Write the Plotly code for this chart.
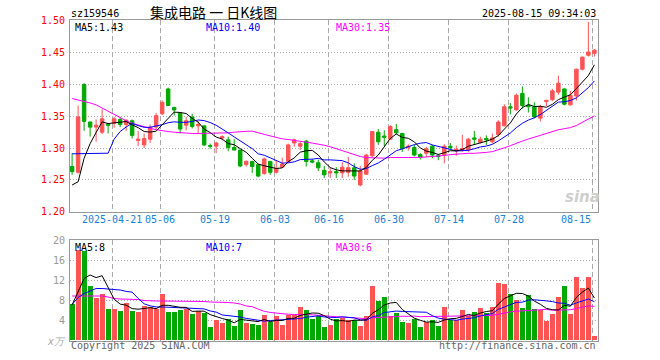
import plotly.graph_objects as go

# ---------------- data ----------------
tick_idx = [7, 15, 24, 34, 43, 53, 63, 73, 87]
tick_labels = ["2025-04-21", "05-06", "05-19", "06-03", "06-16", "06-30", "07-14", "07-28", "08-15"]

opens = [1.271, 1.262, 1.400, 1.341, 1.333, 1.325, 1.338, 1.339, 1.345, 1.337,
         1.343, 1.312, 1.305, 1.314, 1.333, 1.354, 1.393, 1.364, 1.355, 1.336,
         1.349, 1.335, 1.335, 1.304, 1.303, 1.316, 1.313, 1.301, 1.297, 1.274,
         1.279, 1.274, 1.260, 1.279, 1.262, 1.270, 1.279, 1.308, 1.303, 1.311,
         1.280, 1.277, 1.265, 1.261, 1.263, 1.261, 1.262, 1.269, 1.242, 1.259,
         1.288, 1.325, 1.319, 1.314, 1.329, 1.323, 1.301, 1.301, 1.290, 1.292,
         1.303, 1.288, 1.290, 1.303, 1.296, 1.297, 1.297, 1.316, 1.309, 1.315,
         1.310, 1.321, 1.335, 1.365, 1.360, 1.386, 1.367, 1.365, 1.347, 1.373,
         1.376, 1.388, 1.393, 1.368, 1.382, 1.424, 1.446, 1.449]
highs = [1.292, 1.367, 1.402, 1.342, 1.345, 1.361, 1.339, 1.349, 1.349, 1.345,
         1.345, 1.327, 1.323, 1.337, 1.355, 1.375, 1.395, 1.365, 1.356, 1.349,
         1.354, 1.343, 1.335, 1.307, 1.310, 1.320, 1.318, 1.314, 1.297, 1.281,
         1.280, 1.275, 1.285, 1.280, 1.281, 1.285, 1.307, 1.315, 1.310, 1.313,
         1.283, 1.282, 1.272, 1.270, 1.270, 1.278, 1.286, 1.276, 1.272, 1.291,
         1.327, 1.330, 1.328, 1.336, 1.338, 1.324, 1.306, 1.305, 1.292, 1.302,
         1.305, 1.291, 1.306, 1.308, 1.304, 1.321, 1.316, 1.327, 1.318, 1.320,
         1.323, 1.344, 1.369, 1.371, 1.386, 1.397, 1.380, 1.372, 1.368, 1.376,
         1.393, 1.414, 1.394, 1.390, 1.425, 1.444, 1.498, 1.456]
lows = [1.258, 1.260, 1.327, 1.318, 1.310, 1.322, 1.323, 1.332, 1.333, 1.327,
        1.315, 1.303, 1.300, 1.308, 1.329, 1.352, 1.367, 1.351, 1.323, 1.328,
        1.331, 1.323, 1.303, 1.299, 1.292, 1.312, 1.295, 1.296, 1.270, 1.271,
        1.261, 1.254, 1.258, 1.258, 1.260, 1.269, 1.277, 1.302, 1.297, 1.271,
        1.276, 1.264, 1.253, 1.253, 1.253, 1.253, 1.255, 1.250, 1.240, 1.258,
        1.286, 1.305, 1.303, 1.313, 1.322, 1.294, 1.296, 1.287, 1.282, 1.286,
        1.284, 1.281, 1.276, 1.297, 1.288, 1.294, 1.294, 1.305, 1.307, 1.305,
        1.307, 1.318, 1.334, 1.353, 1.359, 1.362, 1.356, 1.347, 1.342, 1.366,
        1.374, 1.384, 1.367, 1.367, 1.375, 1.422, 1.444, 1.444]
closes = [1.263, 1.349, 1.342, 1.333, 1.336, 1.346, 1.336, 1.346, 1.337, 1.344,
          1.320, 1.314, 1.315, 1.333, 1.351, 1.372, 1.367, 1.360, 1.330, 1.343,
          1.334, 1.337, 1.305, 1.303, 1.308, 1.318, 1.301, 1.297, 1.272, 1.279,
          1.271, 1.256, 1.283, 1.262, 1.268, 1.275, 1.305, 1.313, 1.307, 1.279,
          1.278, 1.269, 1.258, 1.263, 1.261, 1.270, 1.269, 1.256, 1.264, 1.289,
          1.326, 1.310, 1.317, 1.334, 1.324, 1.299, 1.303, 1.289, 1.286, 1.299,
          1.289, 1.287, 1.303, 1.301, 1.298, 1.299, 1.314, 1.314, 1.314, 1.313,
          1.316, 1.341, 1.365, 1.363, 1.383, 1.367, 1.365, 1.349, 1.365, 1.375,
          1.390, 1.402, 1.369, 1.383, 1.424, 1.443, 1.451, 1.454]
volumes = [7.3, 18.0, 17.8, 10.8, 8.5, 9.2, 6.2, 6.2, 5.8, 7.4,
           5.8, 5.6, 6.9, 6.7, 6.3, 9.2, 5.6, 5.6, 6.0, 6.2,
           5.2, 5.9, 5.5, 2.6, 4.0, 3.5, 4.3, 2.8, 6.0, 3.4,
           3.2, 3.0, 5.0, 3.7, 4.8, 3.0, 5.1, 5.1, 6.6, 6.0,
           4.2, 4.9, 2.7, 3.0, 4.3, 4.5, 4.1, 4.0, 2.8, 4.9,
           10.8, 7.8, 8.7, 4.8, 5.5, 3.7, 3.5, 4.3, 2.7, 3.7,
           4.0, 2.9, 6.7, 4.0, 4.0, 6.0, 4.8, 5.7, 6.5, 5.5,
           6.7, 11.5, 11.3, 9.2, 8.0, 6.5, 9.0, 6.2, 6.0, 3.9,
           5.2, 8.7, 10.8, 5.2, 12.7, 10.5, 12.7, 0.9]

# moving-average values before enough days are visible
ma5_head = [1.242, 1.247, 1.284, 1.307]
ma10_head = [1.291, 1.291, 1.291, 1.291, 1.291, 1.291, 1.292, 1.314, 1.326]
ma30_head = [1.378, 1.376, 1.373, 1.371, 1.368, 1.363, 1.357, 1.352, 1.347, 1.343,
             1.339, 1.336, 1.333, 1.331, 1.329, 1.327, 1.326, 1.325, 1.324, 1.324,
             1.323, 1.323, 1.323, 1.323, 1.323, 1.323, 1.324, 1.325, 1.326]
vma5_head = [7.0, 9.7, 12.3, 13.0]
vma10_head = [7.1, 8.5, 9.3, 9.8, 10.3, 10.3, 10.2, 10.2, 10.0]
vma30_head = [8.8, 8.8, 8.9, 8.9, 8.9, 8.8, 8.6, 8.3, 8.2, 8.2,
              8.2, 8.1, 7.9, 7.8, 7.8, 7.8, 7.8, 7.8, 7.8, 7.8,
              7.8, 7.7, 7.7, 7.6, 7.6, 7.5, 7.5, 7.4, 7.2]

price_ma_labels = ["MA5:1.43", "MA10:1.40", "MA30:1.35"]
vol_ma_labels = ["MA5:8", "MA10:7", "MA30:6"]


def moving_avg(vals, n, head):
    out = list(head)
    for i in range(len(head), len(vals)):
        w = vals[i - n + 1:i + 1]
        out.append(sum(w) / len(w))
    return out


N = len(closes)
xs = list(range(N))
ma5 = moving_avg(closes, 5, ma5_head)
ma10 = moving_avg(closes, 10, ma10_head)
ma30 = moving_avg(closes, 30, ma30_head)
vma5 = moving_avg(volumes, 5, vma5_head)
vma10 = moving_avg(volumes, 10, vma10_head)
vma30 = moving_avg(volumes, 30, vma30_head)

RED = "#ff5454"
GREEN = "#00a800"
MONO = "DejaVu Sans Mono"

vol_colors = [RED if c >= o else GREEN for o, c in zip(opens, closes)]

fig = go.Figure()
fig.add_trace(go.Candlestick(
    x=xs, open=opens, high=highs, low=lows, close=closes,
    increasing=dict(line=dict(color=RED, width=1), fillcolor=RED),
    decreasing=dict(line=dict(color=GREEN, width=1), fillcolor=GREEN),
    whiskerwidth=0, xaxis="x", yaxis="y", showlegend=False, hoverinfo="skip"))
for vals, col in [(ma30, "#ff00ff"), (ma10, "#0000ff"), (ma5, "#000000")]:
    fig.add_trace(go.Scatter(x=xs, y=vals, mode="lines", line=dict(color=col, width=1),
                             xaxis="x", yaxis="y", showlegend=False, hoverinfo="skip"))

fig.add_trace(go.Bar(x=xs, y=volumes, marker=dict(color=vol_colors, line=dict(width=0)),
                     width=0.83, xaxis="x2", yaxis="y2", showlegend=False, hoverinfo="skip"))
for vals, col in [(vma30, "#ff00ff"), (vma10, "#0000ff"), (vma5, "#000000")]:
    fig.add_trace(go.Scatter(x=xs, y=vals, mode="lines", line=dict(color=col, width=1),
                             xaxis="x2", yaxis="y2", showlegend=False, hoverinfo="skip"))

W, H = 660, 360
ML, MR, MT, MB = 70, 62, 20, 19
PW, PH = W - ML - MR, H - MT - MB


def pxx(x):
    return (x - ML) / PW


def pxy(y):
    return (H - MB - y) / PH


grid_x = [i - 0.28 for i in tick_idx]
xcommon = dict(range=[-0.35, 87.6], showticklabels=False, ticks="", tickvals=grid_x,
               showgrid=True, gridcolor="#aaaaaa", griddash="5px,3px", gridwidth=1,
               zeroline=False, showline=True, mirror=True, linecolor="#999999", linewidth=1,
               fixedrange=True, automargin=False)

fig.update_layout(
    width=W, height=H, margin=dict(l=ML, r=MR, t=MT, b=MB, autoexpand=False),
    paper_bgcolor="white", plot_bgcolor="white", bargap=0, boxgap=0.17,
    xaxis=dict(domain=[0, 1], anchor="y", rangeslider=dict(visible=False), **xcommon),
    xaxis2=dict(domain=[0, 1], anchor="y2", **xcommon),
    yaxis=dict(domain=[pxy(211.7), 1], range=[1.2, 1.5014],
               tickvals=[1.20, 1.25, 1.30, 1.35, 1.40, 1.45, 1.50],
               ticktext=["1.20", "1.25", "1.30", "1.35", "1.40", "1.45", "1.50"],
               tickfont=dict(family=MONO, size=10, color="#ff0000"), ticks="",
               ticklabelstandoff=2, automargin=False,
               showgrid=True, gridcolor="#aaaaaa", griddash="1px,2px", zeroline=False,
               showline=True, mirror=True, linecolor="#999999", linewidth=1, fixedrange=True),
    yaxis2=dict(domain=[0, pxy(240)], range=[-0.2, 20.0],
                tickvals=[4, 8, 12, 16, 20], ticktext=["4", "8", "12", "16", "20"],
                tickfont=dict(family=MONO, size=10, color="#999999"), ticks="",
                ticklabelstandoff=2, automargin=False,
                showgrid=True, gridcolor="#aaaaaa", griddash="1px,2px", zeroline=False,
                showline=True, mirror=True, linecolor="#999999", linewidth=1, fixedrange=True),
)

ann = []


def text(x, y, s, color="#000000", size=10, anchor="left", family=MONO, xref="paper"):
    ann.append(dict(x=x if xref != "paper" else pxx(x), y=pxy(y), xref=xref, yref="paper",
                    text=s, showarrow=False, xanchor=anchor, yanchor="middle",
                    font=dict(family=family, size=size, color=color), borderpad=0))


text(70, 13, "sz159546")
text(213, 11.5, "集成电路 一 日K线图", size=14, anchor="center", family="Noto Sans CJK SC")
text(597, 13, "2025-08-15 09:34:03", anchor="right")

ma_cols = ["#000000", "#0000ff", "#ff00ff"]
for xpos, lab, col in zip([74, 205, 335], price_ma_labels, ma_cols):
    text(xpos, 27, lab, color=col)
for xpos, lab, col in zip([74, 205, 335], vol_ma_labels, ma_cols):
    text(xpos, 247, lab, color=col)

DATE_BLUE = "#1a82d4"
for k, (gx, lab) in enumerate(zip(grid_x, tick_labels)):
    if k == len(tick_labels) - 1:
        text(592, 219, lab, color=DATE_BLUE, anchor="right")
    else:
        text(gx, 219, lab, color=DATE_BLUE, anchor="center", xref="x")

text(56, 341, "<i>x万</i>", color="#aaaaaa", size=10, anchor="center")
text(70, 346, "Copyright 2025 SINA.COM", color="#666666")
text(597, 346, "http://finance.sina.com.cn", color="#666666", anchor="right")
text(582, 197, "<b><i>sina</i></b>", color="#cfcfcf", size=15, anchor="center",
     family="DejaVu Sans")

fig.update_layout(annotations=ann)
fig.write_html("out.html", config={"displayModeBar": False, "staticPlot": True},
               post_script="document.body.style.margin='0px';document.body.style.padding='0px';")
